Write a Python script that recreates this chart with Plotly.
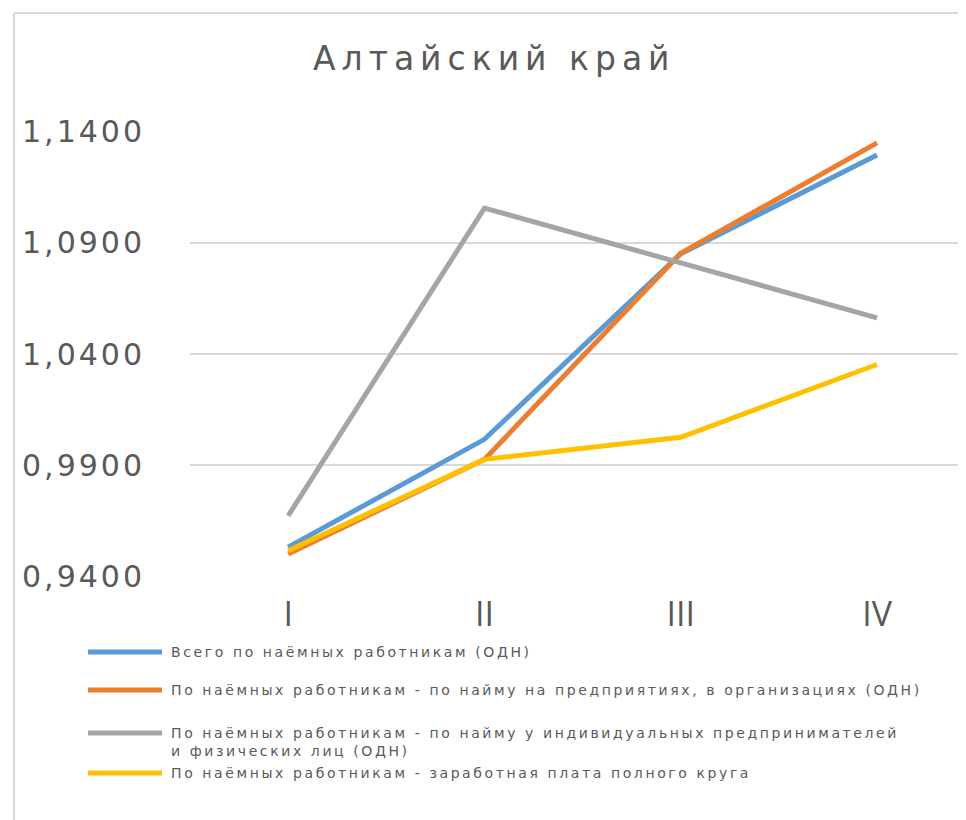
import plotly.graph_objects as go

categories = ["I", "II", "III", "IV"]
series_names = [
    "Всего по наёмных работникам (ОДН)",
    "По наёмных работникам - по найму на предприятиях, в организациях (ОДН)",
    "По наёмных работникам - по найму у индивидуальных предпринимателей<br>и физических лиц (ОДН)",
    "По наёмных работникам - заработная плата полного круга",
]
total_vals = [0.9533, 1.0017, 1.0850, 1.1293]
enterprise_vals = [0.9502, 0.9927, 1.0852, 1.1348]
individual_vals = [0.9674, 1.1055, 1.0809, 1.0562]
fullwage_vals = [0.9517, 0.9927, 1.0026, 1.0353]
y_ticks = [0.94, 0.99, 1.04, 1.09, 1.14]
title_text = "Алтайский край"

colors = ["#5B9BD5", "#ED7D31", "#A5A5A5", "#FFC000"]
all_vals = [total_vals, enterprise_vals, individual_vals, fullwage_vals]

OFF = 8  # page body margin
W, H = 966, 820
# plot area in window coords: x 190..974, y 131..577
L, R, T, B = 190 - OFF, 0, 131 - OFF, H - (577 - OFF)
pw, ph = W - L - R, H - T - B

def px(x):
    return (x - OFF - L) / pw

def py(y):
    return (H - B - (y - OFF)) / ph

def spaced(s, sp):
    return f'<span style="letter-spacing:{sp}px">{s}</span>'

fig = go.Figure()
for name, vals, c in zip(series_names, all_vals, colors):
    fig.add_trace(go.Scatter(
        x=categories, y=vals, mode="lines", name=name.replace("<br>", " "),
        line=dict(color=c, width=5), showlegend=False,
    ))

# manual legend
leg_rows = [652, 690, 733, 773]
shapes = []
annotations = []
for name, c, yy in zip(series_names, colors, leg_rows):
    shapes.append(dict(type="line", xref="paper", yref="paper",
                       x0=px(88), x1=px(162), y0=py(yy), y1=py(yy),
                       line=dict(color=c, width=5)))
    txt = "<br>".join(spaced(part, 2.6) for part in name.split("<br>"))
    annotations.append(dict(xref="paper", yref="paper", x=px(169), y=py(yy - 10),
                            xanchor="left", yanchor="top", align="left",
                            text=txt, showarrow=False,
                            font=dict(family="DejaVu Sans", size=14, color="#595959")))

# chart border
shapes.append(dict(type="line", xref="paper", yref="paper",
                   x0=px(14), x1=px(14), y0=py(13), y1=py(840),
                   line=dict(color="#D9D9D9", width=2)))
shapes.append(dict(type="line", xref="paper", yref="paper",
                   x0=px(14), x1=px(990), y0=py(13), y1=py(13),
                   line=dict(color="#D9D9D9", width=2)))

annotations.append(dict(xref="paper", yref="paper", x=px(494), y=py(58),
                        xanchor="center", yanchor="middle", showarrow=False,
                        text=spaced(title_text, 6),
                        font=dict(family="DejaVu Sans", size=33, color="#595959")))

y_labels = [spaced(f"{v:.4f}".replace(".", ","), 3) for v in y_ticks]

fig.update_layout(
    width=W, height=H, autosize=False,
    margin=dict(l=L, r=R, t=T, b=B),
    paper_bgcolor="white", plot_bgcolor="white",
    separators=", ",
    shapes=shapes, annotations=annotations,
    xaxis=dict(range=[-0.5, -0.5 + pw / 196.3], showgrid=False, showline=False,
               zeroline=False, ticks="", ticklabelstandoff=14,
               tickfont=dict(family="Open Sans", size=34, color="#595959")),
    yaxis=dict(range=[0.9399, 1.1401], tickvals=y_ticks, ticktext=y_labels,
               showgrid=True, gridcolor="#D9D9D9", gridwidth=1.5,
               zeroline=False, showline=False, ticks="",
               ticklabelstandoff=44,
               tickfont=dict(family="DejaVu Sans", size=30, color="#595959")),
)

fig.write_html("out.html")
